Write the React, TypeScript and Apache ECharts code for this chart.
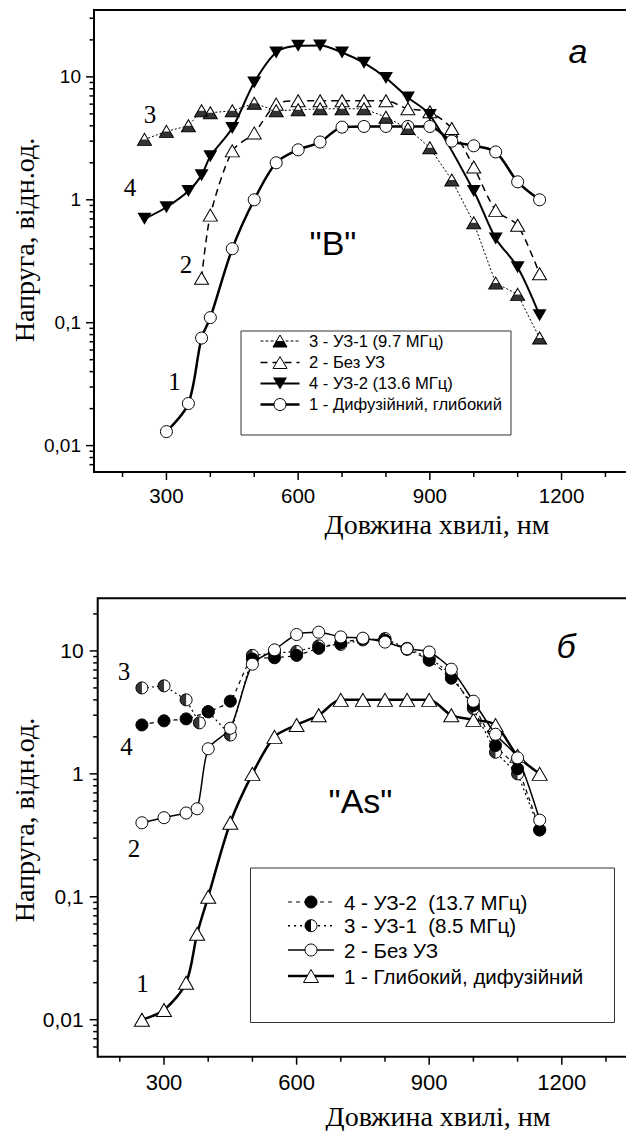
import React, { useEffect, useRef } from "react";
import * as echarts from "echarts";

const SANS = '"Liberation Sans", Arial, Helvetica, sans-serif';
const SERIF = '"Liberation Serif", "Times New Roman", serif';

// ---------- Panel "a" ("B") ----------
const aX1 = [300, 350, 380, 400, 450, 500, 550, 600, 650, 700, 750, 800, 850, 900, 950, 1000, 1050, 1100, 1150];
const aY1 = [0.013, 0.022, 0.075, 0.11, 0.4, 1.0, 2.0, 2.55, 2.95, 3.9, 3.95, 3.95, 3.95, 3.95, 3.0, 2.75, 2.45, 1.4, 1.0];
const aX2 = [380, 400, 450, 500, 550, 600, 650, 700, 750, 800, 850, 900, 950, 1000, 1050, 1100, 1150];
const aY2 = [0.23, 0.75, 2.5, 3.5, 6.0, 6.4, 6.4, 6.4, 6.4, 6.4, 5.5, 5.2, 3.8, 1.85, 0.82, 0.62, 0.25];
const aX3 = [250, 300, 350, 380, 400, 450, 500, 550, 600, 650, 700, 750, 800, 850, 900, 950, 1000, 1050, 1100, 1150];
const aY3 = [3.1, 3.6, 4.0, 5.3, 5.1, 5.3, 6.1, 5.3, 5.4, 5.5, 5.5, 5.5, 4.7, 3.8, 2.65, 1.45, 0.65, 0.21, 0.17, 0.075];
const aX4 = [250, 300, 350, 380, 400, 450, 500, 550, 600, 650, 700, 750, 800, 850, 900, 1000, 1050, 1100, 1150];
const aY4 = [0.7, 0.87, 1.18, 1.58, 2.26, 3.84, 9.0, 15.8, 17.9, 18.0, 15.8, 13.0, 9.8, 6.8, 4.9, 1.18, 0.485, 0.283, 0.115];
const aLegend = ["3 - УЗ-1 (9.7 МГц)", "2 - Без УЗ", "4 - УЗ-2 (13.6 МГц)", "1 - Дифузійний, глибокий"];

// ---------- Panel "б" ("As") ----------
const bX1 = [250, 300, 350, 375, 400, 450, 500, 550, 600, 650, 700, 750, 800, 850, 900, 950, 1000, 1050, 1100, 1150];
const bY1 = [0.01, 0.012, 0.02, 0.05, 0.1, 0.4, 1.0, 2.0, 2.5, 3.0, 4.0, 4.0, 4.0, 4.0, 4.0, 3.0, 2.75, 2.5, 1.4, 1.0];
const bX2 = [250, 300, 350, 375, 400, 450, 500, 550, 600, 650, 700, 750, 800, 850, 900, 950, 1000, 1050, 1100, 1150];
const bY2 = [0.4, 0.44, 0.48, 0.52, 1.6, 2.35, 7.8, 10.2, 13.6, 14.2, 13.0, 12.7, 11.8, 10.4, 9.8, 7.1, 3.9, 2.1, 1.35, 0.42];
const bX3 = [250, 300, 350, 380, 400, 450, 500, 550, 600, 650, 700, 750, 800, 850, 900, 950, 1000, 1050, 1100, 1150];
const bY3 = [5.0, 5.2, 4.0, 2.6, 3.2, 2.07, 9.2, 9.6, 9.9, 11.0, 11.3, 12.3, 12.6, 10.5, 8.8, 6.5, 3.4, 1.5, 1.0, 0.35];
const bX4 = [250, 300, 350, 400, 450, 500, 550, 600, 650, 700, 750, 800, 850, 900, 950, 1000, 1050, 1100, 1150];
const bY4 = [2.5, 2.7, 2.8, 3.2, 3.9, 8.6, 8.8, 9.2, 10.5, 11.6, 12.5, 12.2, 10.3, 8.4, 6.0, 3.6, 1.7, 1.1, 0.35];
const bLegend = ["4 - УЗ-2  (13.7 МГц)", "3 - УЗ-1  (8.5 МГц)", "2 - Без УЗ", "1 - Глибокий, дифузійний"];

// ---------- axes ----------
const xMajorTicks = [300, 600, 900, 1200];
const xMinorTicks = [200, 400, 500, 700, 800, 1000, 1100, 1300];
const yMajorTicks = [0.01, 0.1, 1, 10];
const yTickLabels = ["0,01", "0,1", "1", "10"];
const xTitle = "Довжина хвилі, нм";
const yTitle = "Напруга, відн.од.";

const aRange = { xMin: 135, xMax: 1350, yMin: 0.0061, yMax: 35 };
const bRange = { xMin: 150, xMax: 1350, yMin: 0.005, yMax: 26.8 };

function minorLogTicks(lo: number, hi: number) {
  const out: number[] = [];
  for (let e = -3; e <= 2; e++) {
    for (let m = 2; m <= 9; m++) {
      const v = +(m * Math.pow(10, e)).toPrecision(6);
      if (v > lo && v < hi) out.push(v);
    }
  }
  return out;
}

const pairs = (xs: number[], ys: number[]) => xs.map((x, i) => [x, ys[i]]);

const INV_TRI = "path://M0 0 L100 0 L50 100 Z";
const HALF_TRI = "path://M25 50 L75 50 L100 100 L0 100 Z M50 0 L50.3 0.4 L49.7 0.4 Z";
function halfCirclePath() {
  let d = "M50 100";
  for (let k = 1; k <= 24; k++) {
    const a = Math.PI / 2 + (Math.PI * k) / 24;
    d += ` L${(50 + 50 * Math.cos(a)).toFixed(2)} ${(50 + 50 * Math.sin(a)).toFixed(2)}`;
  }
  d += " Z M99.6 50 L100 50 L99.6 50.4 Z";
  return "path://" + d;
}
const HALF_CIRC = halfCirclePath();

function labelFmt(v: number) {
  for (let i = 0; i < yMajorTicks.length; i++) {
    if (Math.abs(v - yMajorTicks[i]) / yMajorTicks[i] < 1e-6) return yTickLabels[i];
  }
  return "";
}

function tickSeries(idx: number, r: { xMin: number; yMin: number; yMax: number }) {
  const yData = [
    ...yMajorTicks.map((v) => [r.xMin, v, 8, 0]),
    ...minorLogTicks(r.yMin, r.yMax).map((v) => [r.xMin, v, 4.5, 0]),
    ...xMajorTicks.map((v) => [v, r.yMin, 8, 1]),
    ...xMinorTicks.map((v) => [v, r.yMin, 5, 1]),
  ];
  return {
    type: "custom",
    xAxisIndex: idx,
    yAxisIndex: idx,
    clip: false,
    silent: true,
    z: 10,
    renderItem: (_p: any, api: any) => {
      const pt = api.coord([api.value(0), api.value(1)]);
      const len = api.value(2);
      const isX = api.value(3) === 1;
      return {
        type: "line",
        shape: isX
          ? { x1: pt[0], y1: pt[1], x2: pt[0], y2: pt[1] + len }
          : { x1: pt[0] - len, y1: pt[1], x2: pt[0], y2: pt[1] },
        style: { stroke: "#000", lineWidth: 1.5 },
      };
    },
    data: yData,
  };
}

const openStyle = { color: "#fff", borderColor: "#000", borderWidth: 1 };

function lineSeries(idx: number, name: string, data: number[][], symbol: string, size: any, item: any, ls: any, smooth: number) {
  return {
    type: "line",
    name,
    xAxisIndex: idx,
    yAxisIndex: idx,
    data,
    symbol,
    symbolSize: size,
    showSymbol: true,
    smooth,
    silent: true,
    itemStyle: item,
    lineStyle: { color: "#000", ...ls },
    emphasis: { disabled: true },
  };
}

function overlay(idx: number, data: number[][], symbol: string, size: any) {
  return {
    type: "scatter",
    xAxisIndex: idx,
    yAxisIndex: idx,
    data,
    symbol,
    symbolSize: size,
    silent: true,
    z: 3,
    itemStyle: { color: "#000" },
    emphasis: { disabled: true },
  };
}

function tri(cx: number, cy: number, w: number, h: number) {
  return [[cx, cy - h / 2], [cx + w / 2, cy + h / 2], [cx - w / 2, cy + h / 2]];
}
function halfTri(cx: number, cy: number, w: number, h: number) {
  return [[cx - w / 4, cy], [cx + w / 4, cy], [cx + w / 2, cy + h / 2], [cx - w / 2, cy + h / 2]];
}
function invTri(cx: number, cy: number, w: number, h: number) {
  return [[cx - w / 2, cy - h / 2], [cx + w / 2, cy - h / 2], [cx, cy + h / 2]];
}

function legendGraphics() {
  const g: any[] = [];
  // top legend
  g.push({ type: "rect", shape: { x: 241, y: 331, width: 270, height: 104 }, style: { fill: "#fff", stroke: "#333", lineWidth: 1 }, z: 100 });
  const aRows = [341, 362.5, 383.5, 404.5];
  const aDash = [[3, 2], [7, 5], null, null];
  const aW = [1, 1.5, 2, 2.5];
  aRows.forEach((y, i) => {
    g.push({ type: "line", shape: { x1: 260.5, y1: y, x2: 299.5, y2: y }, style: { stroke: "#000", lineWidth: aW[i], lineDash: aDash[i] || undefined }, z: 101 });
    g.push({ type: "text", x: 309, y, style: { text: aLegend[i], fontSize: 16.6, fontFamily: SANS, fill: "#000", align: "left", verticalAlign: "middle", textAlign: "left", textVerticalAlign: "middle" }, z: 101 });
  });
  g.push({ type: "polygon", shape: { points: tri(280, aRows[0], 14, 12) }, style: { fill: "#fff", stroke: "#000", lineWidth: 1 }, z: 102 });
  g.push({ type: "polygon", shape: { points: halfTri(280, aRows[0], 14, 12) }, style: { fill: "#000" }, z: 103 });
  g.push({ type: "polygon", shape: { points: tri(280, aRows[1], 14, 12) }, style: { fill: "#fff", stroke: "#000", lineWidth: 1 }, z: 102 });
  g.push({ type: "polygon", shape: { points: invTri(280, aRows[2], 14, 12) }, style: { fill: "#000" }, z: 102 });
  g.push({ type: "circle", shape: { cx: 280, cy: aRows[3], r: 6 }, style: { fill: "#fff", stroke: "#000", lineWidth: 1 }, z: 102 });

  // bottom legend
  g.push({ type: "rect", shape: { x: 250.5, y: 868, width: 364, height: 154.5 }, style: { fill: "#fff", stroke: "#333", lineWidth: 1 }, z: 100 });
  const bRows = [902, 925.7, 950, 976];
  const bDash = [[4, 4], [2, 4], null, null];
  const bW = [1.2, 1.5, 1.5, 2.5];
  bRows.forEach((y, i) => {
    g.push({ type: "line", shape: { x1: 288, y1: y, x2: 334, y2: y }, style: { stroke: "#000", lineWidth: bW[i], lineDash: bDash[i] || undefined }, z: 101 });
    g.push({ type: "text", x: 344, y, style: { text: bLegend[i], fontSize: 20.5, fontFamily: SANS, fill: "#000", align: "left", verticalAlign: "middle", textAlign: "left", textVerticalAlign: "middle" }, z: 101 });
  });
  g.push({ type: "circle", shape: { cx: 311, cy: bRows[0], r: 6 }, style: { fill: "#000", stroke: "#000", lineWidth: 1 }, z: 102 });
  g.push({ type: "circle", shape: { cx: 311, cy: bRows[1], r: 6 }, style: { fill: "#fff", stroke: "#000", lineWidth: 1 }, z: 102 });
  g.push({ type: "sector", shape: { cx: 311, cy: bRows[1], r: 6, r0: 0, startAngle: Math.PI / 2, endAngle: (3 * Math.PI) / 2, clockwise: true }, style: { fill: "#000" }, z: 103 });
  g.push({ type: "circle", shape: { cx: 311, cy: bRows[2], r: 6 }, style: { fill: "#fff", stroke: "#000", lineWidth: 1 }, z: 102 });
  g.push({ type: "polygon", shape: { points: tri(311, bRows[3], 15, 13) }, style: { fill: "#fff", stroke: "#000", lineWidth: 1 }, z: 102 });
  return g;
}

function textGraphics() {
  const t = (x: number, y: number, text: string, size: number, family: string, italic = false) => ({
    type: "text",
    x,
    y,
    style: {
      text,
      fontSize: size,
      fontFamily: family,
      fontStyle: italic ? "italic" : "normal",
      fill: "#000",
      align: "center",
      verticalAlign: "middle",
      textAlign: "center",
      textVerticalAlign: "middle",
    },
    z: 110,
  });
  return [
    // curve numbers, panel a
    t(150, 114, "3", 25, SERIF),
    t(130, 187, "4", 25, SERIF),
    t(186, 264, "2", 25, SERIF),
    t(174.5, 381, "1", 25, SERIF),
    // curve numbers, panel б
    t(124, 671, "3", 25, SERIF),
    t(126.5, 746, "4", 25, SERIF),
    t(134, 848, "2", 25, SERIF),
    t(142.5, 983, "1", 25, SERIF),
    // panel letters
    t(578, 51, "a", 34, SANS, true),
    t(566, 646, "б", 34, SANS, true),
    t(333, 243, '"B"', 34, SANS),
    t(360.5, 801, '"As"', 34, SANS),
    // axis titles
    t(437, 524, xTitle, 28, SERIF),
    t(438, 1116, xTitle, 28, SERIF),
    { ...t(24, 240, yTitle, 28, SERIF), rotation: Math.PI / 2 },
    { ...t(24, 820, yTitle, 28, SERIF), rotation: Math.PI / 2 },
  ];
}

function xAxisOpt(idx: number, r: any, fontSize: number, margin: number) {
  return {
    gridIndex: idx,
    type: "value",
    min: r.xMin,
    max: r.xMax,
    interval: 100,
    axisLine: { show: false },
    axisTick: { show: false },
    splitLine: { show: false },
    axisLabel: {
      customValues: xMajorTicks,
      formatter: (v: number) => (xMajorTicks.indexOf(v) >= 0 ? String(v) : ""),
      fontSize,
      fontFamily: SANS,
      color: "#000",
      margin,
    },
  };
}

function yAxisOpt(idx: number, r: any, fontSize: number, margin: number) {
  return {
    gridIndex: idx,
    type: "log",
    logBase: 10,
    min: r.yMin,
    max: r.yMax,
    axisLine: { show: false },
    axisTick: { show: false },
    splitLine: { show: false },
    minorTick: { show: false },
    axisLabel: { formatter: labelFmt, fontSize, fontFamily: SANS, color: "#000", margin },
  };
}

export default function App() {
  const ref = useRef<HTMLDivElement>(null);
  useEffect(() => {
    document.body.style.margin = "0";
    if (!ref.current) return;
    const chart = echarts.init(ref.current, undefined, { renderer: "svg" });
    const option: any = {
      animation: false,
      backgroundColor: "#fff",
      grid: [
        { left: 94, top: 10, width: 533.4, height: 462, show: true, borderColor: "#000", borderWidth: 2, backgroundColor: "transparent", containLabel: false, outerBoundsMode: "none" },
        { left: 97.7, top: 598.3, width: 530.4, height: 458.4, show: true, borderColor: "#000", borderWidth: 2, backgroundColor: "transparent", containLabel: false, outerBoundsMode: "none" },
      ],
      xAxis: [xAxisOpt(0, aRange, 20.5, 13), xAxisOpt(1, bRange, 22, 15)],
      yAxis: [yAxisOpt(0, aRange, 19, 13), yAxisOpt(1, bRange, 21, 14)],
      series: [
        // panel a
        lineSeries(0, "1 - Дифузійний, глибокий", pairs(aX1, aY1), "circle", 12, openStyle, { width: 2.5 }, 0.3),
        lineSeries(0, "2 - Без УЗ", pairs(aX2, aY2), "triangle", [14, 12], openStyle, { width: 1.5, type: [7, 5] }, 0.25),
        lineSeries(0, "3 - УЗ-1 (9.7 МГц)", pairs(aX3, aY3), "triangle", [14, 12], openStyle, { width: 1, type: [2, 2] }, 0),
        lineSeries(0, "4 - УЗ-2 (13.6 МГц)", pairs(aX4, aY4), INV_TRI, [14, 12], { color: "#000" }, { width: 2 }, 0.3),
        overlay(0, pairs(aX3, aY3), HALF_TRI, [14, 12]),
        tickSeries(0, aRange),
        // panel б
        lineSeries(1, "1 - Глибокий, дифузійний", pairs(bX1, bY1), "triangle", [15, 13], openStyle, { width: 2.5 }, 0.3),
        lineSeries(1, "3 - УЗ-1  (8.5 МГц)", pairs(bX3, bY3), "circle", 12, openStyle, { width: 1.2, type: [2, 3] }, 0),
        lineSeries(1, "4 - УЗ-2  (13.7 МГц)", pairs(bX4, bY4), "circle", 12, { color: "#000", borderColor: "#000", borderWidth: 1 }, { width: 1.2, type: [4, 4] }, 0.2),
        overlay(1, pairs(bX3, bY3), HALF_CIRC, 12),
        { ...lineSeries(1, "2 - Без УЗ", pairs(bX2, bY2), "circle", 12, openStyle, { width: 1.5 }, 0.25), z: 4 },
        tickSeries(1, bRange),
      ],
      graphic: { elements: [...legendGraphics(), ...textGraphics()] },
    };
    chart.setOption(option);
    return () => chart.dispose();
  }, []);
  return <div ref={ref} style={{ width: 626, height: 1131 }} />;
}
